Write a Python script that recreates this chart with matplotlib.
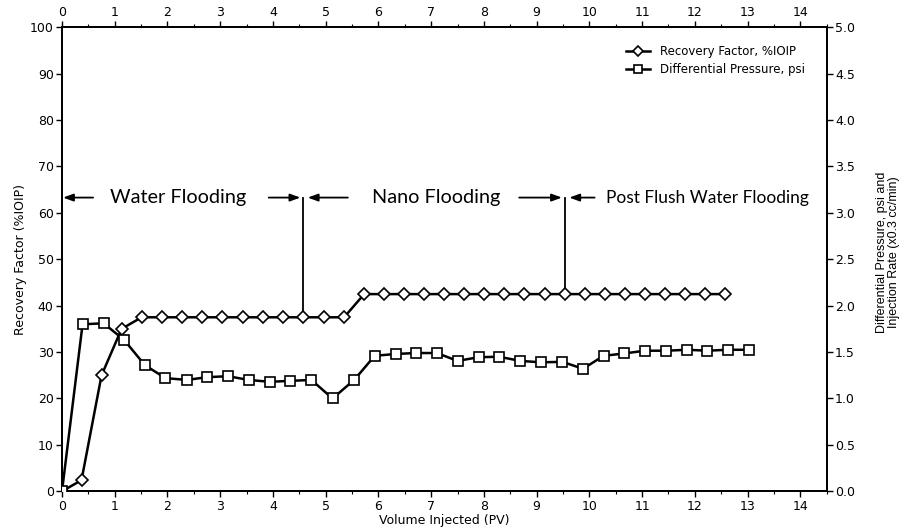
import matplotlib
matplotlib.use("Agg")
import matplotlib.pyplot as plt
from matplotlib.ticker import MultipleLocator

# Data
rf_x = [0.0, 0.37, 0.75, 1.13, 1.51, 1.89, 2.28, 2.66, 3.04, 3.43, 3.81, 4.19, 4.57,
        4.96, 5.35, 5.73, 6.11, 6.49, 6.87, 7.25, 7.63, 8.01, 8.39, 8.77, 9.15, 9.53,
        9.91, 10.29, 10.67, 11.05, 11.43, 11.81, 12.19, 12.57]
rf_y = [0.0, 2.4, 25.0, 35.0, 37.5, 37.5, 37.5, 37.5, 37.5, 37.5, 37.5, 37.5, 37.5,
        37.5, 37.5, 42.5, 42.5, 42.5, 42.5, 42.5, 42.5, 42.5, 42.5, 42.5, 42.5, 42.5,
        42.5, 42.5, 42.5, 42.5, 42.5, 42.5, 42.5, 42.5]
dp_x = [0.0, 0.39, 0.79, 1.18, 1.57, 1.96, 2.37, 2.75, 3.15, 3.54, 3.94, 4.33, 4.73,
        5.13, 5.54, 5.93, 6.33, 6.71, 7.11, 7.50, 7.90, 8.29, 8.69, 9.09, 9.49, 9.88,
        10.27, 10.66, 11.05, 11.46, 11.86, 12.24, 12.62, 13.02]
dp_y = [0.0, 1.80, 1.81, 1.63, 1.36, 1.22, 1.20, 1.23, 1.24, 1.20, 1.18, 1.19, 1.20,
        1.00, 1.20, 1.46, 1.48, 1.49, 1.49, 1.405, 1.445, 1.45, 1.405, 1.39, 1.395, 1.32,
        1.46, 1.485, 1.515, 1.515, 1.525, 1.515, 1.525, 1.525]

phase_labels = ["Water Flooding", "Nano Flooding", "Post Flush Water Flooding"]
phase_bounds = [0.0, 4.57, 9.53]
phase_top = 63.3

fig = plt.figure(figsize=(9.09, 5.32), dpi=100)
ax = fig.add_axes([0.0682, 0.0765, 0.9094 - 0.0682, 0.9487 - 0.0765])
ax2 = ax.twinx()
ax3 = ax.twiny()

ax.set_xlim(0, 14.5)
ax.set_ylim(0, 100)
ax2.set_ylim(0, 5)
ax3.set_xlim(0, 14.5)

l1, = ax.plot(rf_x, rf_y, color="black", lw=1.8, marker="D", ms=6.5,
              mfc="white", mec="black", mew=1.2, zorder=5,
              label="Recovery Factor, %IOIP")
l2, = ax2.plot(dp_x, dp_y, color="black", lw=1.8, marker="s", ms=7.5,
               mfc="white", mec="black", mew=1.2, zorder=5,
               label="Differential Pressure, psi")
ax2.set_zorder(ax.get_zorder() + 1)
ax2.patch.set_visible(False)
ax3.patch.set_visible(False)

# vertical phase separators
ax.plot([phase_bounds[1], phase_bounds[1]], [rf_y[12], phase_top], color="black", lw=1.3, zorder=4)
ax.plot([phase_bounds[2], phase_bounds[2]], [rf_y[25], phase_top], color="black", lw=1.3, zorder=4)

aprops = dict(arrowstyle="-|>,head_length=0.6,head_width=0.22", color="black", lw=1.3,
              shrinkA=0, shrinkB=0)
y0 = phase_top
ax.annotate("", xy=(0.02, y0), xytext=(0.59, y0), arrowprops=aprops)
ax.annotate("", xy=(4.52, y0), xytext=(3.92, y0), arrowprops=aprops)
ax.annotate("", xy=(4.66, y0), xytext=(5.42, y0), arrowprops=aprops)
ax.annotate("", xy=(9.48, y0), xytext=(8.67, y0), arrowprops=aprops)
ax.annotate("", xy=(9.62, y0), xytext=(10.1, y0), arrowprops=aprops)

tfont = dict(family="Lato", fontsize=14.3, va="center", ha="left")
ax.text(0.91, y0, phase_labels[0], **tfont)
ax.text(5.87, y0, phase_labels[1], **tfont)
ax.text(10.32, y0, phase_labels[2], fontsize=12.5, family="Lato", va="center", ha="left")

# ticks
for a in (ax, ax3):
    a.xaxis.set_major_locator(MultipleLocator(1))
    a.xaxis.set_minor_locator(MultipleLocator(0.5))
ax.yaxis.set_major_locator(MultipleLocator(10))
ax2.yaxis.set_major_locator(MultipleLocator(0.5))
ax2.yaxis.set_major_formatter(matplotlib.ticker.FormatStrFormatter("%.1f"))
for a in (ax, ax2, ax3):
    a.tick_params(which="major", length=4, width=1, labelsize=9, pad=2)
    a.tick_params(which="minor", length=2.5, width=0.8)
    for s in a.spines.values():
        s.set_linewidth(1.2)

ax.set_xlabel("Volume Injected (PV)", fontsize=9, labelpad=1)
ax.set_ylabel("Recovery Factor (%IOIP)", fontsize=9)
ax2.set_ylabel("Differential Pressure, psi and\nInjection Rate (x0.3 cc/min)",
               fontsize=9, family="Liberation Sans", linespacing=1.0)
ax2.yaxis.set_label_coords(1.064, 0.515)
ax.yaxis.set_label_coords(-0.046, 0.5)

leg = ax2.legend(handles=[l1, l2], loc="upper right", bbox_to_anchor=(0.985, 0.985),
                 frameon=False, fontsize=8.5, handlelength=2.0, handletextpad=0.8,
                 labelspacing=0.45, markerscale=0.85)

fig.savefig("out.png", dpi=100)
